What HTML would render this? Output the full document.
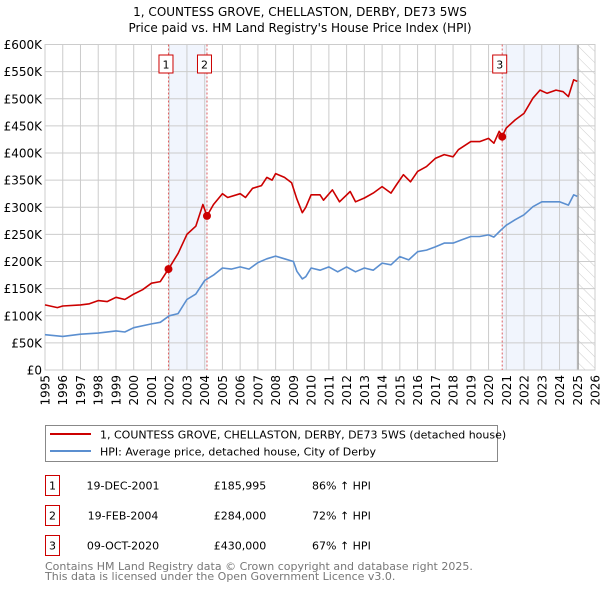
<!DOCTYPE html>
<html><head><meta charset="utf-8"><style>
body{margin:0;background:#fff;font-family:"DejaVu Sans","Liberation Sans",sans-serif;}
svg text{font-family:"DejaVu Sans","Liberation Sans",sans-serif;}
</style></head><body>
<svg id="chart" width="600" height="590" viewBox="0 0 600 590" xmlns="http://www.w3.org/2000/svg">
<defs><pattern id="hatch" width="8" height="8" patternUnits="userSpaceOnUse" patternTransform="rotate(-45)"><line x1="0" y1="0" x2="0" y2="8" stroke="#ccc" stroke-width="1"/></pattern></defs>
<text x="300" y="16" text-anchor="middle" font-size="12" fill="#000">1, COUNTESS GROVE, CHELLASTON, DERBY, DE73 5WS</text>
<text x="300" y="32" text-anchor="middle" font-size="12" fill="#000">Price paid vs. HM Land Registry's House Price Index (HPI)</text>
<g id="plot"></g>
<g>
<rect x="45.5" y="425.5" width="452" height="36" fill="#fff" stroke="#888"/>
<line x1="50" y1="434" x2="91" y2="434" stroke="#cc0000" stroke-width="2"/>
<text x="100" y="438.5" font-size="11">1, COUNTESS GROVE, CHELLASTON, DERBY, DE73 5WS (detached house)</text>
<line x1="50" y1="451" x2="91" y2="451" stroke="#5b8fd0" stroke-width="2"/>
<text x="100" y="455.5" font-size="11">HPI: Average price, detached house, City of Derby</text>
</g>
<g id="table" font-size="11"></g>
<text x="45" y="570" font-size="11" fill="#777">Contains HM Land Registry data © Crown copyright and database right 2025.</text>
<text x="45" y="580" font-size="11" fill="#777">This data is licensed under the Open Government Licence v3.0.</text>
</svg>
<script>
const redYears=[1995,1995.7,1996,1997,1997.5,1998,1998.5,1999,1999.5,2000,2000.5,2001,2001.5,2001.96,2002.5,2003,2003.5,2003.9,2004.13,2004.5,2005,2005.3,2006,2006.3,2006.7,2007.2,2007.5,2007.8,2008,2008.5,2008.9,2009.2,2009.5,2009.7,2010,2010.5,2010.7,2011.2,2011.6,2012.2,2012.5,2013,2013.5,2014,2014.5,2014.8,2015.2,2015.6,2016,2016.5,2017,2017.5,2018,2018.3,2019,2019.5,2020,2020.3,2020.6,2020.77,2021,2021.5,2022,2022.5,2022.9,2023.3,2023.8,2024.2,2024.5,2024.8,2025];
const redValues=[120,115,118,120,122,128,126,134,130,140,148,160,163,186,215,250,265,305,284,305,325,318,325,318,335,340,355,350,362,355,345,315,290,300,323,323,313,332,310,329,310,317,326,338,326,341,360,347,366,375,390,397,393,406,421,421,427,418,440,431,446,461,473,501,516,510,516,513,504,535,532];
const hpiYears=[1995,1996,1997,1998,1999,1999.5,2000,2001,2001.5,2002,2002.5,2003,2003.5,2004,2004.5,2005,2005.5,2006,2006.5,2007,2007.5,2008,2008.5,2009,2009.2,2009.5,2009.7,2010,2010.5,2011,2011.5,2012,2012.5,2013,2013.5,2014,2014.5,2015,2015.5,2016,2016.5,2017,2017.5,2018,2018.5,2019,2019.5,2020,2020.3,2020.7,2021,2021.5,2022,2022.5,2023,2023.5,2024,2024.5,2024.8,2025];
const hpiValues=[65,62,66,68,72,70,78,85,88,100,104,130,140,165,175,188,186,190,186,198,205,210,205,200,182,168,172,188,184,190,181,190,181,188,184,197,194,209,203,218,221,227,234,234,240,246,246,249,245,258,267,277,286,301,310,310,310,304,323,320];
const saleYears=[2001.96,2004.13,2020.77];
const saleValues=[185.995,284,430];
const saleLabels=["1","2","3"];
const saleDates=["19-DEC-2001","19-FEB-2004","09-OCT-2020"];
const salePrices=["£185,995","£284,000","£430,000"];
const saleHpi=["86% ↑ HPI","72% ↑ HPI","67% ↑ HPI"];
const yTicks=[0,50,100,150,200,250,300,350,400,450,500,550,600];
const yTickLabels=["£0","£50K","£100K","£150K","£200K","£250K","£300K","£350K","£400K","£450K","£500K","£550K","£600K"];
const xTicks=[1995,1996,1997,1998,1999,2000,2001,2002,2003,2004,2005,2006,2007,2008,2009,2010,2011,2012,2013,2014,2015,2016,2017,2018,2019,2020,2021,2022,2023,2024,2025,2026];

const X0=45,X1=595,Y0=370,Y1=44.5;
const xs=y=>X0+(y-1995)/(2026-1995)*(X1-X0);
const ys=v=>Y0-v/600*(Y0-Y1);
const NS="http://www.w3.org/2000/svg";
const plot=document.getElementById('plot');
function mk(tag,attrs,parent){const e=document.createElementNS(NS,tag);for(const k in attrs)e.setAttribute(k,attrs[k]);(parent||plot).appendChild(e);return e;}
mk('rect',{x:X0,y:Y1,width:X1-X0,height:Y0-Y1,fill:'#fff'});
let s1=mk('rect',{x:xs(saleYears[0]),y:Y1,width:xs(saleYears[1])-xs(saleYears[0]),height:Y0-Y1,fill:'#eef3fc',opacity:0.8});


let s2=mk('rect',{x:xs(saleYears[2]),y:Y1,width:xs(2025.05)-xs(saleYears[2]),height:Y0-Y1,fill:'#eef3fc',opacity:0.8});


let ht=mk('rect',{x:xs(2025.05),y:Y1,width:X1-xs(2025.05),height:Y0-Y1,fill:'url(#hatch)'});


yTicks.forEach((t,i)=>{
 mk('line',{x1:X0,x2:X1,y1:ys(t),y2:ys(t),stroke:'#ccc','stroke-width':1});
 const tx=mk('text',{x:X0-3,y:ys(t)+4.5,'text-anchor':'end','font-size':12});
 tx.textContent=yTickLabels[i];
 
 
});
xTicks.forEach(t=>{
 mk('line',{x1:xs(t),x2:xs(t),y1:Y1,y2:Y0,stroke:'#ccc','stroke-width':1});
 const tx=mk('text',{transform:`translate(${xs(t)+4.5},${Y0+5}) rotate(-90)`,'text-anchor':'end','font-size':12});
 tx.textContent=t;
 
 
});
mk('line',{x1:xs(2025.05),x2:xs(2025.05),y1:Y1,y2:Y0,stroke:'#999','stroke-width':1.2});
mk('rect',{x:X0,y:Y1,width:X1-X0,height:Y0-Y1,fill:'none',stroke:'#ccc'});
saleYears.forEach((y,i)=>{
 const l=mk('line',{x1:xs(y),x2:xs(y),y1:Y1,y2:Y0,stroke:'#e06060','stroke-width':1,'stroke-dasharray':'2,2'});
 
 
 const b=mk('rect',{x:xs(y)-9.5,y:55,width:14,height:18,fill:'#fff',stroke:'#cc0000'});
 
 
 const t=mk('text',{x:xs(y)-2.5,y:68.5,'text-anchor':'middle','font-size':11});
 t.textContent=saleLabels[i];
});
function path(xa,va,color,name){
 const d=xa.map((y,i)=>(i?'L':'M')+xs(y).toFixed(1)+','+ys(va[i]).toFixed(1)).join(' ');
 const p=mk('path',{d:d,fill:'none',stroke:color,'stroke-width':1.6,'stroke-linejoin':'round'});
 
 
}
path(hpiYears,hpiValues,'#5b8fd0','hpi-line');
path(redYears,redValues,'#cc0000','price-paid-line');
saleYears.forEach((y,i)=>{
 const c=mk('circle',{cx:xs(y),cy:ys(saleValues[i]),r:4,fill:'#cc0000'});
 
 
});
const tbl=document.getElementById('table');
saleLabels.forEach((lab,i)=>{
 const yy=475+i*30;
 const b=mk('rect',{x:45.5,y:yy+0.5,width:14,height:20,fill:'#fff',stroke:'#cc0000'},tbl);
 
 
 const cells=[[52.5,lab,'middle'],[123,saleDates[i],'middle'],[240,salePrices[i],'middle'],[312,saleHpi[i],'start']];
 cells.forEach(c=>{
  const t=mk('text',{x:c[0],y:yy+14.5,'text-anchor':c[2],'font-size':11},tbl);
  t.textContent=c[1];
  
  
 });
});
</script>
</body></html>
